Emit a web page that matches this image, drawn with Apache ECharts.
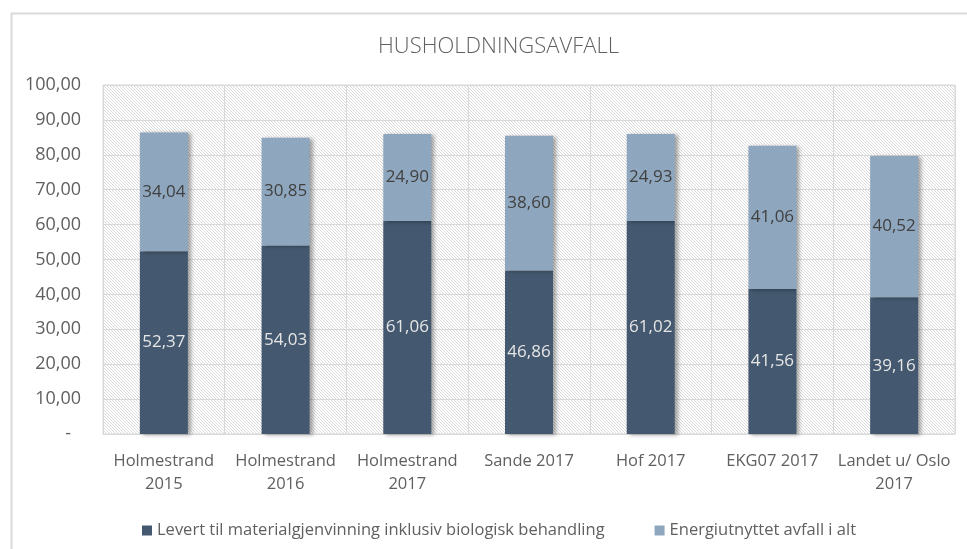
<!DOCTYPE html>
<html>
<head>
<meta charset="utf-8">
<script src="https://cdn.jsdelivr.net/npm/echarts@6/dist/echarts.min.js"></script>
<style>
  html, body { margin: 0; padding: 0; background: #fff; }
  #chart { width: 967px; height: 549px; }
</style>
</head>
<body>
<div id="chart"></div>
<script>
const categories = ['Holmestrand\n2015', 'Holmestrand\n2016', 'Holmestrand\n2017', 'Sande 2017', 'Hof 2017', 'EKG07 2017', 'Landet u/ Oslo\n2017']
const material = [52.37, 54.03, 61.06, 46.86, 61.02, 41.56, 39.16]
const energi = [34.04, 30.85, 24.90, 38.60, 24.93, 41.06, 40.52]
const seriesNames = ['Levert til materialgjenvinning inklusiv biologisk behandling', 'Energiutnyttet avfall i alt']

const font = '"Open Sans", sans-serif'
const txt = '#606060'

// diagonal hatch for plot background
function hatch() {
    const c = document.createElement('canvas')
    c.width = 3
    c.height = 3
    const ctx = c.getContext('2d')
    ctx.fillStyle = '#ffffff'
    ctx.fillRect(0, 0, 3, 3)
    ctx.fillStyle = '#dadada'
    for (let i = 0; i < 3; i++) {
        ctx.fillRect(i, i, 1, 1)
    }
    return c
}

function fmt(v) {
    return v.toFixed(2).replace('.', ',')
}

const chart = echarts.init(document.getElementById('chart'))
const shadow = {
    shadowBlur: 4,
    shadowOffsetX: 3,
    shadowOffsetY: 1,
    shadowColor: 'rgba(0,0,0,0.35)'
}
chart.setOption({
    animation: false,
    textStyle: { fontFamily: font },
    graphic: [{
        type: 'rect',
        left: 9,
        top: 11,
        shape: { width: 1000, height: 600 },
        style: { fill: 'none', stroke: '#d9d9d9', lineWidth: 2 },
        silent: true
    }],
    title: {
        text: 'HUSHOLDNINGSAVFALL',
        left: 373,
        top: 31,
        textStyle: { color: txt, fontSize: 22, fontWeight: 300, fontFamily: font }
    },
    legend: {
        top: 517,
        left: 137,
        icon: 'rect',
        itemWidth: 10,
        itemHeight: 10,
        itemGap: 50,
        textStyle: { color: txt, fontSize: 16.5, fontFamily: font },
        data: seriesNames
    },
    grid: {
        left: 103,
        right: 12,
        top: 85,
        bottom: 115,
        show: true,
        borderColor: '#d9d9d9',
        borderWidth: 1,
        backgroundColor: { image: hatch(), repeat: 'repeat' }
    },
    xAxis: {
        type: 'category',
        data: categories,
        axisLine: { lineStyle: { color: '#d9d9d9' } },
        axisTick: { show: false },
        splitLine: { show: true, interval: 0, lineStyle: { color: '#d9d9d9' } },
        axisLabel: { color: txt, fontSize: 16.5, lineHeight: 23, margin: 16, interval: 0, fontFamily: font }
    },
    yAxis: {
        type: 'value',
        min: 0,
        max: 100,
        interval: 10,
        axisLine: { show: false },
        axisTick: { show: false },
        splitLine: { lineStyle: { color: '#d9d9d9' } },
        axisLabel: {
            color: txt,
            fontSize: 18,
            margin: 22,
            fontFamily: font,
            formatter: v => v === 0 ? '{z|-}' : fmt(v),
            rich: { z: { color: txt, fontSize: 18, padding: [0, 10, 0, 0] } }
        }
    },
    series: [
        {
            name: seriesNames[0],
            type: 'bar',
            stack: 'a',
            barWidth: 48,
            data: material,
            itemStyle: Object.assign({ color: '#44596f' }, shadow),
            label: {
                show: true,
                position: 'inside',
                color: '#e6e6e6',
                fontSize: 17,
                fontFamily: font,
                formatter: p => fmt(p.value)
            }
        },
        {
            name: seriesNames[1],
            type: 'bar',
            stack: 'a',
            barWidth: 48,
            data: energi,
            itemStyle: Object.assign({ color: '#8fa7be' }, shadow),
            label: {
                show: true,
                position: 'inside',
                color: '#404040',
                fontSize: 17,
                fontFamily: font,
                formatter: p => fmt(p.value)
            }
        }
    ]
})
</script>
</body>
</html>
